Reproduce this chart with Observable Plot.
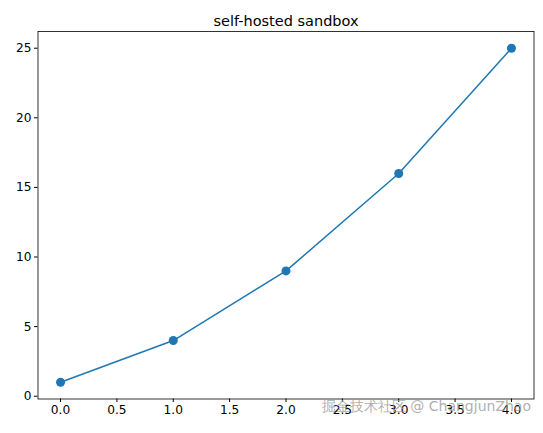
<!DOCTYPE html>
<html>
<head>
<meta charset="utf-8">
<script src="https://cdn.jsdelivr.net/npm/d3@7"></script>
<script src="https://cdn.jsdelivr.net/npm/@observablehq/plot@0.6"></script>
<style>
  html, body { margin: 0; padding: 0; background: #fff; }
  #chart { position: relative; width: 543px; height: 433px; }
  #chart svg { display: block; }
</style>
</head>
<body>
<div id="chart"></div>
<script>
const title = "self-hosted sandbox";
const watermark = "掘金技术社区 @ ChangjunZhao";
const xValues = [0, 1, 2, 3, 4];
const yValues = [1, 4, 9, 16, 25];
const xTicks = [0, 0.5, 1, 1.5, 2, 2.5, 3, 3.5, 4];
const yTicks = [0, 5, 10, 15, 20, 25];

const data = xValues.map((x, i) => ({x, y: yValues[i]}));
const color = "#1f77b4";
const font = "DejaVu Sans, sans-serif";

const chart = Plot.plot({
  width: 543,
  height: 433,
  marginLeft: 37.5,
  marginRight: 9.5,
  marginTop: 31,
  marginBottom: 34.5,
  style: {fontFamily: font, fontSize: "12.2px", color: "#000", background: "#fff", overflow: "visible"},
  x: {domain: [-0.2, 4.2], ticks: xTicks, tickFormat: d3.format(".1f"), tickSize: 3.5, tickPadding: 3, label: null},
  y: {domain: [-0.2, 26.2], ticks: yTicks, tickFormat: d => String(d), tickSize: 3.5, tickPadding: 3, label: null},
  marks: [
    Plot.frame({stroke: "#000", strokeWidth: 0.8}),
    Plot.line(data, {x: "x", y: "y", stroke: color, strokeWidth: 1.5}),
    Plot.dot(data, {x: "x", y: "y", fill: color, r: 4.5, stroke: null}),
    Plot.text([title], {frameAnchor: "top", dy: -16, text: d => d, fontSize: 14.5, fill: "#000"}),
    Plot.text([watermark], {frameAnchor: "bottom-right", dx: -3, dy: 12, text: d => d, fontSize: 14, fill: "#9a9a9a", fillOpacity: 0.8, textAnchor: "end"})
  ]
});
document.getElementById("chart").appendChild(chart);
</script>
</body>
</html>
